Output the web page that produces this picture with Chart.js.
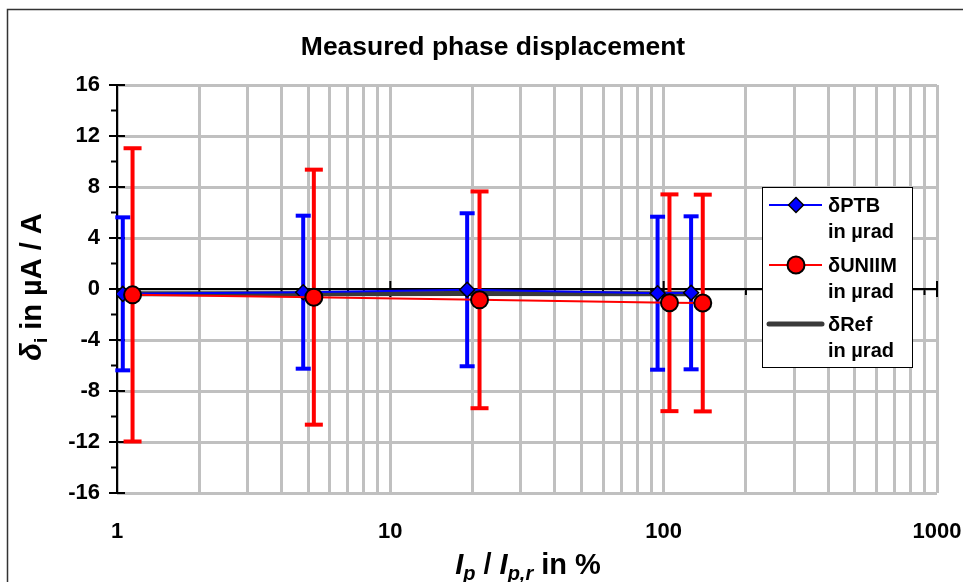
<!DOCTYPE html>
<html><head><meta charset="utf-8">
<script src="https://cdn.jsdelivr.net/npm/chart.js@4/dist/chart.umd.min.js"></script>
<style>html,body{margin:0;padding:0;background:#fff;overflow:hidden}#c{display:block}</style>
</head><body>
<canvas id="c" width="963" height="582"></canvas>
<script>
const FONT = '"Liberation Sans", Arial, Helvetica, sans-serif';
const titleText = 'Measured phase displacement';
const xTickValues = [1, 10, 100, 1000];
const yTickLabels = ['-16', '-12', '-8', '-4', '0', '4', '8', '12', '16'];
// PTB: x in %, value in µrad, uncertainty (±)
const ptbX = [1.05, 4.8, 19.1, 95, 126];
const ptbY = [-0.38, -0.25, -0.06, -0.33, -0.30];
const ptbU = [6, 6, 6, 6, 6];
// UNIIM
const uniX = [1.14, 5.25, 21.2, 105, 139];
const uniY = [-0.46, -0.64, -0.85, -1.08, -1.10];
const uniU = [11.5, 10, 8.5, 8.5, 8.5];
// Reference
const refX = [1.05, 4.8, 19.1, 95, 126];
const refY = [-0.38, -0.37, -0.36, -0.37, -0.38];
const legendLabels = [['δPTB', 'in µrad'], ['δUNIIM', 'in µrad'], ['δRef', 'in µrad']];

const toPts = (xs, ys) => xs.map((x, i) => ({ x: x, y: ys[i] }));
function errSets(xs, ys, us, color, capR, order) {
  return xs.map((x, i) => ({
    data: [{ x: x, y: ys[i] - us[i] }, { x: x, y: ys[i] + us[i] }],
    showLine: true, borderColor: color, borderWidth: 4,
    pointStyle: 'line', pointRadius: capR, pointHoverRadius: capR,
    pointBorderColor: color, pointBorderWidth: 4, pointBackgroundColor: color,
    order: order, clip: false
  }));
}

const datasets = [
  { label: 'δUNIIM', data: toPts(uniX, uniY), showLine: true, borderColor: '#ff0000', borderWidth: 2,
    pointStyle: 'circle', pointRadius: 8.5, pointHoverRadius: 8.5, pointBackgroundColor: '#ff0000',
    pointBorderColor: '#000', pointBorderWidth: 2, order: 0, clip: false },
  { label: 'δPTB', data: toPts(ptbX, ptbY), showLine: true, borderColor: '#0000ff', borderWidth: 2,
    pointStyle: 'rectRot', pointRadius: 7.5, pointHoverRadius: 7.5, pointBackgroundColor: '#0000ff',
    pointBorderColor: '#000', pointBorderWidth: 1.5, order: 1 },
  ...errSets(uniX, uniY, uniU, '#ff0000', 9, 2),
  ...errSets(ptbX, ptbY, ptbU, '#0000ff', 7.5, 3),
  { label: 'δRef', data: toPts(refX, refY), showLine: true, borderColor: '#3a3a3a', borderWidth: 5,
    pointRadius: 0, pointHoverRadius: 0, order: 4 }
];

function drawRich(ctx, segs, cx, cy, rotate) {
  let total = 0;
  segs.forEach(s => { ctx.font = s.font; s.w = ctx.measureText(s.t).width; total += s.w; });
  ctx.save();
  ctx.translate(cx, cy);
  if (rotate) ctx.rotate(-Math.PI / 2);
  ctx.fillStyle = '#000';
  ctx.textBaseline = 'alphabetic';
  ctx.textAlign = 'left';
  let x = -total / 2;
  segs.forEach(s => { ctx.font = s.font; ctx.fillText(s.t, x, s.dy || 0); x += s.w; });
  ctx.restore();
}

const deco = {
  id: 'deco',
  beforeDraw(chart) {
    const ctx = chart.ctx;
    ctx.save();
    ctx.fillStyle = '#fff';
    ctx.fillRect(0, 0, chart.width, chart.height);
    ctx.strokeStyle = '#333';
    ctx.lineWidth = 1.5;
    ctx.beginPath();
    ctx.moveTo(7.5, chart.height); ctx.lineTo(7.5, 9.5); ctx.lineTo(chart.width, 9.5);
    ctx.stroke();
    ctx.restore();
  },
  beforeDatasetsDraw(chart) {
    const ctx = chart.ctx, xs = chart.scales.x, ys = chart.scales.y;
    const x0 = xs.getPixelForValue(1), y0 = ys.getPixelForValue(0);
    ctx.save();
    ctx.strokeStyle = '#000';
    ctx.lineWidth = 2;
    ctx.beginPath();
    ctx.moveTo(x0, ys.getPixelForValue(16)); ctx.lineTo(x0, ys.getPixelForValue(-16));
    ctx.moveTo(x0, y0); ctx.lineTo(xs.getPixelForValue(1000), y0);
    for (let v = -16; v <= 16; v += 2) {
      const p = ys.getPixelForValue(v);
      if (v % 4 === 0) { ctx.moveTo(x0 - 8, p); ctx.lineTo(x0 + 8, p); }
      else { ctx.moveTo(x0 - 6, p); ctx.lineTo(x0, p); }
    }
    xs.ticks.forEach(t => {
      const p = xs.getPixelForValue(t.value);
      if (xTickValues.includes(t.value)) { if (t.value !== 1) { ctx.moveTo(p, y0 - 8); ctx.lineTo(p, y0 + 8); } }
      else { ctx.moveTo(p, y0); ctx.lineTo(p, y0 + 6); }
    });
    ctx.stroke();
    ctx.restore();
  },
  afterDraw(chart) {
    const ctx = chart.ctx;
    ctx.save();
    // title
    drawRich(ctx, [{ t: titleText, font: 'bold 26.5px ' + FONT }], 493, 55, false);
    // y axis title
    drawRich(ctx, [
      { t: 'δ', font: 'italic bold 29px ' + FONT },
      { t: 'i', font: 'bold 19px ' + FONT, dy: 6 },
      { t: ' in µA / A', font: 'bold 29px ' + FONT }
    ], 41, 287, true);
    // x axis title
    drawRich(ctx, [
      { t: 'I', font: 'italic bold 29px ' + FONT },
      { t: 'p', font: 'italic bold 20px ' + FONT, dy: 6 },
      { t: ' / ', font: 'bold 29px ' + FONT },
      { t: 'I', font: 'italic bold 29px ' + FONT },
      { t: 'p,r', font: 'italic bold 20px ' + FONT, dy: 6 },
      { t: ' in %', font: 'bold 29px ' + FONT }
    ], 528, 574, false);
    // legend
    const L = 762, T = 187, R = 912, B = 367;
    ctx.fillStyle = '#fff';
    ctx.fillRect(L, T, R - L, B - T);
    ctx.strokeStyle = '#000';
    ctx.lineWidth = 1;
    ctx.strokeRect(L + 0.5, T + 0.5, R - L, B - T);
    const rows = [205, 265, 324];
    const styles = [
      { c: '#0000ff', w: 2, m: 'rectRot', r: 7.5, bw: 1.5 },
      { c: '#ff0000', w: 2, m: 'circle', r: 8.5, bw: 2 },
      { c: '#3a3a3a', w: 5, m: null }
    ];
    rows.forEach((y, i) => {
      const s = styles[i];
      ctx.strokeStyle = s.c; ctx.lineWidth = s.w; ctx.lineCap = i === 2 ? 'round' : 'butt';
      ctx.beginPath(); ctx.moveTo(769, y); ctx.lineTo(822, y); ctx.stroke();
      if (s.m) {
        ctx.fillStyle = s.c; ctx.strokeStyle = '#000'; ctx.lineWidth = s.bw;
        Chart.helpers.drawPoint(ctx, { pointStyle: s.m, radius: s.r, rotation: 0, borderWidth: s.bw }, 796, y);
      }
      ctx.fillStyle = '#000';
      ctx.font = 'bold 20px ' + FONT;
      ctx.textBaseline = 'middle';
      ctx.textAlign = 'left';
      ctx.fillText(legendLabels[i][0], 828, y + 1);
      ctx.fillText(legendLabels[i][1], 828, y + 27);
    });
    ctx.restore();
  }
};

new Chart(document.getElementById('c'), {
  type: 'scatter',
  data: { datasets: datasets },
  options: {
    responsive: false, animation: false, devicePixelRatio: 1,
    layout: { padding: { top: 85, right: 26, left: 0, bottom: 0 } },
    plugins: { legend: { display: false }, tooltip: { enabled: false }, title: { display: false } },
    events: [],
    scales: {
      x: {
        type: 'logarithmic', min: 1, max: 1000, position: 'bottom',
        afterFit(s) { s.height = 89; s.paddingLeft = 0; s.paddingRight = 0; },
        afterBuildTicks(s) {
          const t = [];
          for (let d = 0; d < xTickValues.length - 1; d++) {
            for (let k = 1; k <= 9; k++) t.push({ value: k * xTickValues[d] });
          }
          t.push({ value: xTickValues[xTickValues.length - 1] });
          s.ticks = t;
        },
        grid: { color: '#c0c0c0', lineWidth: 3, drawTicks: false },
        border: { display: false },
        ticks: {
          autoSkip: false, maxRotation: 0, minRotation: 0, padding: 26, color: '#000',
          font: { family: FONT, size: 22, weight: 'bold' },
          callback(v) { return xTickValues.includes(v) ? String(v) : ''; }
        }
      },
      y: {
        type: 'linear', min: -16, max: 16,
        afterFit(s) { s.width = 117; s.paddingTop = 0; s.paddingBottom = 0; },
        afterBuildTicks(s) {
          const t = [];
          yTickLabels.forEach((lab, i) => {
            const v = Number(lab);
            t.push({ value: v });
            if (i < yTickLabels.length - 1) t.push({ value: (v + Number(yTickLabels[i + 1])) / 2 });
          });
          s.ticks = t;
        },
        grid: {
          color(c) { return yTickLabels.includes(String(c.tick.value)) ? '#c0c0c0' : 'rgba(0,0,0,0)'; },
          lineWidth: 3, drawTicks: false
        },
        border: { display: false },
        ticks: {
          padding: 17, color: '#000', font: { family: FONT, size: 22, weight: 'bold' },
          callback(v) { return yTickLabels.includes(String(v)) ? String(v) : ''; }
        }
      }
    }
  },
  plugins: [deco]
});
</script>
</body></html>
